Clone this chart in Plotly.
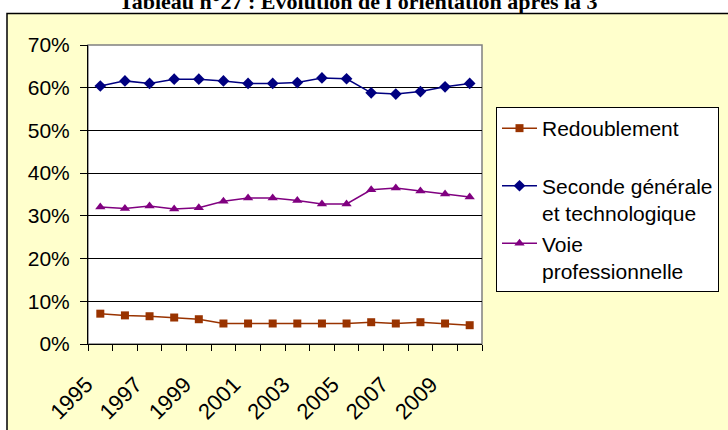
import plotly.graph_objects as go

years = list(range(1995, 2011))
tick_years = [1995, 1997, 1999, 2001, 2003, 2005, 2007, 2009]
tick_labels = [str(y) for y in tick_years]

redoublement = [7.1, 6.7, 6.5, 6.2, 5.8, 4.8, 4.8, 4.8, 4.8, 4.8, 4.8, 5.1, 4.8, 5.1, 4.8, 4.4]
seconde = [60.4, 61.6, 61.0, 62.0, 62.0, 61.6, 61.0, 61.0, 61.2, 62.3, 62.1, 58.8, 58.5, 59.1, 60.2, 61.0]
voie_pro = [32.1, 31.7, 32.3, 31.6, 31.9, 33.4, 34.2, 34.2, 33.6, 32.8, 32.8, 36.1, 36.5, 35.8, 35.1, 34.4]

series_names = ["Redoublement<br>\u00a0", "Seconde générale<br>et technologique", "Voie<br>professionnelle"]
colors = ["#993300", "#000080", "#800080"]
symbols = ["square", "diamond", "triangle-up"]
sizes = [8, 9, 9]

FONT = "Arial, Liberation Sans, sans-serif"

fig = go.Figure()
for name, vals, col, sym, sz in zip(series_names, [redoublement, seconde, voie_pro], colors, symbols, sizes):
    fig.add_trace(go.Scatter(
        x=years, y=[v / 100 for v in vals], name=name, mode="lines+markers",
        line=dict(color=col, width=1.5),
        marker=dict(symbol=sym, size=sz, color=col),
    ))

# plot area geometry (px)
L, R, T, B = 88, 482, 45, 344
W, H = R - L, B - T

def px_x(x):
    return (x - L) / W

def px_y(y):
    return 1 - (y - T) / H

shapes = [
    # outer chart box
    dict(type="rect", xref="paper", yref="paper", layer="below",
         x0=px_x(7), x1=px_x(740), y0=px_y(440), y1=px_y(13.5),
         fillcolor="#FFFFCC", line=dict(color="#000000", width=1.5)),
    # plot area
    dict(type="rect", xref="paper", yref="paper", layer="below",
         x0=0, x1=1, y0=0, y1=1,
         fillcolor="#FFFFFF", line=dict(color="#808080", width=1.5)),
]

fig.update_layout(
    width=728, height=430,
    margin=dict(l=L, r=728 - R, t=T, b=430 - B, autoexpand=False),
    paper_bgcolor="#FFFFFF",
    plot_bgcolor="rgba(0,0,0,0)",
    font=dict(family=FONT, size=21, color="#000000"),
    shapes=shapes,
    showlegend=True,
    legend=dict(
        x=px_x(496), y=px_y(107), xanchor="left", yanchor="top",
        bgcolor="#FFFFFF", bordercolor="#000000", borderwidth=1,
        font=dict(family=FONT, size=21, color="#000000"),
        valign="top", itemwidth=35, tracegroupgap=0,
    ),
    annotations=[dict(
        text="<b>Tableau n°27 : Evolution de l'orientation après la 3<sup>e</sup></b>",
        xref="paper", yref="paper", x=px_x(362), y=px_y(-0.5),
        xanchor="center", yanchor="middle", showarrow=False,
        font=dict(family="Liberation Serif, Times New Roman, serif", size=22, color="#000000"),
    )],
)

fig.update_xaxes(
    range=[1994.5, 2010.5],
    tickmode="array", tickvals=tick_years, ticktext=tick_labels,
    tickangle=-45, ticks="", showgrid=False, zeroline=False,
    showline=True, linecolor="#000000", linewidth=1,
    ticklabelshift=-14, ticklabelstandoff=18,
    minor=dict(tickmode="array", tickvals=[y - 0.5 for y in years] + [2010.5],
               ticks="outside", ticklen=6, tickcolor="#000000", tickwidth=1, showgrid=False),
    tickfont=dict(family=FONT, size=22),
)
fig.update_yaxes(
    range=[0, 0.7], dtick=0.1, tickformat=".0%",
    ticks="outside", ticklen=7, tickcolor="#000000",
    showgrid=True, gridcolor="#000000", gridwidth=1, zeroline=False,
    showline=True, linecolor="#000000", linewidth=1,
    ticklabelstandoff=6,
    tickfont=dict(family=FONT, size=21),
)

fig.write_html("out.html", config={"displayModeBar": False},
               post_script="document.body.style.margin='0px';")
